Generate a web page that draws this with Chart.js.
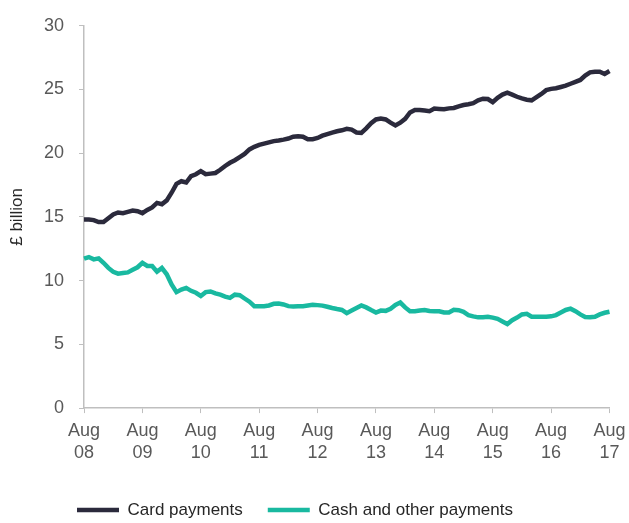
<!DOCTYPE html>
<html>
<head>
<meta charset="utf-8">
<script src="https://cdn.jsdelivr.net/npm/chart.js@4"></script>
<style>
  html, body { margin: 0; padding: 0; background: #fff; }
  #wrap { width: 629px; height: 523px; }
</style>
</head>
<body>
<div id="wrap"><canvas id="payments"></canvas></div>
<script>
// monthly, Aug 2008 .. Aug 2017
const years = ['08', '09', '10', '11', '12', '13', '14', '15', '16', '17'];
const monthNames = ['Aug', 'Sep', 'Oct', 'Nov', 'Dec', 'Jan', 'Feb', 'Mar', 'Apr', 'May', 'Jun', 'Jul'];

const cardPayments = [
  14.8, 14.8, 14.75, 14.6, 14.6, 14.9, 15.2, 15.35, 15.3, 15.4, 15.5, 15.45,
  15.3, 15.55, 15.75, 16.1, 16.0, 16.3, 16.9, 17.6, 17.8, 17.7, 18.2, 18.35,
  18.6, 18.35, 18.4, 18.45, 18.7, 19.0, 19.25, 19.45, 19.7, 19.95, 20.3, 20.5,
  20.65, 20.75, 20.85, 20.95, 21.0, 21.07, 21.15, 21.3, 21.33, 21.3, 21.1, 21.1,
  21.2, 21.38, 21.5, 21.62, 21.72, 21.8, 21.92, 21.85, 21.63, 21.6, 21.95, 22.35,
  22.65, 22.72, 22.65, 22.4, 22.18, 22.4, 22.7, 23.2, 23.4, 23.4, 23.35, 23.3,
  23.5, 23.48, 23.45, 23.52, 23.55, 23.68, 23.78, 23.85, 23.93, 24.15, 24.28, 24.25,
  24.0, 24.35, 24.6, 24.75, 24.6, 24.43, 24.3, 24.2, 24.15, 24.4, 24.65, 24.95,
  25.05, 25.1, 25.2, 25.3, 25.45, 25.6, 25.75, 26.1, 26.35, 26.4, 26.4, 26.22,
  26.45
];

const cashPayments = [
  11.72, 11.85, 11.67, 11.75, 11.4, 11.0, 10.7, 10.55, 10.6, 10.65, 10.85, 11.05,
  11.4, 11.15, 11.15, 10.7, 11.0, 10.5, 9.7, 9.1, 9.3, 9.43, 9.2, 9.05,
  8.8, 9.1, 9.15, 9.0, 8.9, 8.75, 8.65, 8.9, 8.86, 8.6, 8.35, 8.0,
  8.0, 8.0, 8.05, 8.18, 8.2, 8.13, 8.0, 7.97, 8.0, 8.0, 8.05, 8.1,
  8.08, 8.04, 7.95, 7.85, 7.77, 7.7, 7.45, 7.65, 7.85, 8.05, 7.9, 7.69,
  7.5, 7.65, 7.63, 7.8, 8.1, 8.28, 7.9, 7.6, 7.6, 7.65, 7.7, 7.62,
  7.6, 7.6, 7.5, 7.5, 7.72, 7.68, 7.55, 7.3, 7.2, 7.12, 7.13, 7.17,
  7.1, 7.0, 6.8, 6.6, 6.9, 7.1, 7.35, 7.4, 7.17, 7.17, 7.17, 7.17,
  7.2, 7.3, 7.5, 7.7, 7.8, 7.6, 7.35, 7.15, 7.12, 7.17, 7.35, 7.48,
  7.56
];

// category labels, one per month
const labels = cardPayments.map((v, i) => {
  const yr = years[Math.floor(i / 12)];
  return monthNames[i % 12] + ' ' + yr;
});

const font = "'Liberation Sans', Arial, sans-serif";
const textGrey = '#595959';
const axisGrey = '#bfbfbf';

// legend items are spread wide but the row sits near the bottom edge:
// move the legend box so its first item lands where the original has it
const legendNudge = {
  id: 'legendNudge',
  afterUpdate(chart) {
    const lg = chart.legend;
    const hb = lg.legendHitBoxes && lg.legendHitBoxes[0];
    if (!hb) return;
    const dy = 510 - (hb.top + hb.height / 2);
    const dx = 77 - hb.left;
    lg.top += dy;
    lg.bottom += dy;
    lg.left += dx;
    lg.right += dx;
  }
};

new Chart(document.getElementById('payments'), {
  type: 'line',
  data: {
    labels: labels,
    datasets: [
      {
        label: 'Card payments',
        data: cardPayments,
        borderColor: '#2b2a3c',
        backgroundColor: '#2b2a3c',
        borderWidth: 4.5,
        pointRadius: 0,
        tension: 0
      },
      {
        label: 'Cash and other payments',
        data: cashPayments,
        borderColor: '#19b9a0',
        backgroundColor: '#19b9a0',
        borderWidth: 4.5,
        pointRadius: 0,
        tension: 0
      }
    ]
  },
  plugins: [legendNudge],
  options: {
    responsive: true,
    maintainAspectRatio: false,
    animation: false,
    layout: { padding: { top: 14, left: 7, right: 19.5, bottom: 0 } },
    plugins: {
      tooltip: { enabled: false },
      legend: {
        position: 'bottom',
        labels: {
          color: '#262626',
          font: { family: font, size: 17 },
          usePointStyle: true,
          pointStyle: 'line',
          pointStyleWidth: 42,
          padding: 25
        }
      }
    },
    scales: {
      x: {
        offset: false,
        border: { color: axisGrey, width: 1.5 },
        grid: {
          drawOnChartArea: false,
          tickLength: 5,
          color: ctx => (ctx.index % 12 === 0 ? axisGrey : 'rgba(0,0,0,0)')
        },
        ticks: {
          autoSkip: false,
          maxRotation: 0,
          padding: 7,
          color: textGrey,
          font: { family: font, size: 18, lineHeight: 1.22 },
          callback: function (val, i) {
            return i % 12 === 0 ? ['Aug', years[i / 12]] : '';
          }
        },
        // let the last "Aug 17" label run into the right margin
        afterFit: scale => { scale.paddingRight = 0; }
      },
      y: {
        min: 0,
        max: 30,
        border: { color: axisGrey, width: 1.5 },
        grid: { drawOnChartArea: false, tickLength: 5, color: axisGrey },
        ticks: {
          stepSize: 5,
          padding: 15,
          color: textGrey,
          font: { family: font, size: 18 }
        },
        title: {
          display: true,
          text: '£ billion',
          color: '#262626',
          font: { family: font, size: 17, lineHeight: 1.2 },
          padding: { top: 0, bottom: 1.6 }
        }
      }
    }
  }
});
</script>
</body>
</html>
